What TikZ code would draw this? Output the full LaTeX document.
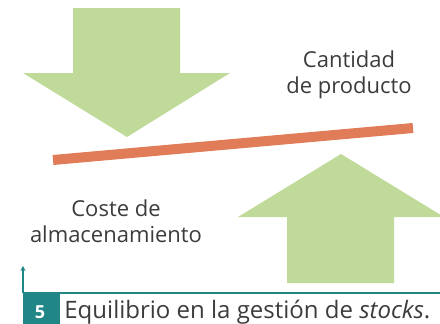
\documentclass[tikz,border=0pt]{standalone}
\usepackage{fontspec}
\setmainfont{Open Sans}
\usetikzlibrary{arrows.meta}
\definecolor{leaf}{RGB}{192,218,154}
\definecolor{brick}{RGB}{224,124,88}
\definecolor{teal5}{RGB}{32,134,134}
\definecolor{ink}{RGB}{60,60,60}

\begin{document}
\begin{tikzpicture}[x=1pt,y=-1pt,thick]
  \useasboundingbox (0,0) rectangle (440,324);
  \fill[leaf] (73,8) -- (180,8) -- (180,73) -- (230,73) -- (127,137) -- (23,73) -- (73,73) -- cycle;
  \fill[leaf] (287,283) -- (394,283) -- (394,217) -- (444,217) -- (341,154) -- (238,217) -- (287,217) -- cycle;
  \draw[brick,line width=10pt] (53,160) -- (413,128);
  \node[ink,font=\fontsize{22}{26}\selectfont,align=center] (prod) at (349,74.5) {Cantidad\\de producto};
  \node[ink,font=\fontsize{22}{26}\selectfont,align=center] (cost) at (116,221) {Coste de\\almacenamiento};
  \coordinate (base) at (23,293);
  \coordinate (top) at (23,266);
  \draw[teal5,line width=2pt] (base) -- (440,293);
  \draw[teal5,line width=2pt,-{Stealth[length=5pt,width=5pt]}] (base) -- (top);
  \fill[teal5] (23,293) rectangle (60,324);
  \node[white,font=\fontsize{18}{20}\selectfont\bfseries,anchor=base,inner sep=0pt] (num) at (40,318) {5};
  \node[ink,font=\fontsize{24}{26}\selectfont,anchor=base west,inner sep=0pt] (cap) at (64,318) {Equilibrio en la gestión de \textit{stocks}.};
\end{tikzpicture}
\end{document}
